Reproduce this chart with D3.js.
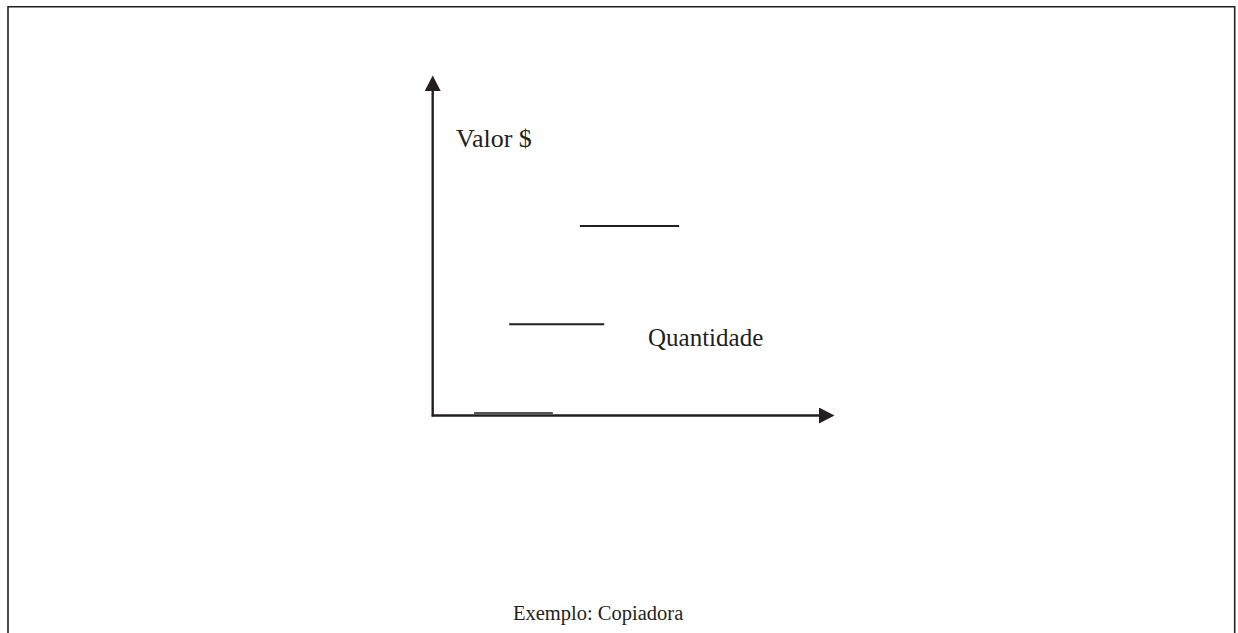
<!DOCTYPE html>
<html>
<head>
<meta charset="utf-8">
<script src="https://cdn.jsdelivr.net/npm/d3@7"></script>
<style>
	body { margin: 0; background: #fff; }
	svg text { font-family: "Liberation Serif", "Times New Roman", serif; fill: #231f20; }
</style>
</head>
<body>
<div id="chart"></div>
<script>

// step segments: price level for a quantity range (schematic)
const seg_start = [10.7, 19.8, 38.1]
const seg_end   = [31.1, 44.4, 63.8]
const seg_value = [0.8, 28.1, 58.4]

const y_label = 'Valor $'
const x_label = 'Quantidade'
const caption = 'Exemplo: Copiadora'

const width = 1238, height = 633
const ink = '#231f20'

var svg = d3.select('#chart').append('svg')
	.attr('width', width)
	.attr('height', height)

// frame (open at the bottom, runs off the page)
svg.append('path')
	.attr('d', `M8,${height + 5} V6.7 H1234.7 V${height + 5}`)
	.attr('fill', 'none')
	.attr('stroke', ink)
	.attr('stroke-width', 1.6)

// scales
var x = d3.scaleLinear()
	.domain([0, 100])
	.range([432.7, 819])

var y = d3.scaleLinear()
	.domain([0, 100])
	.range([415.5, 91])

// arrow heads
var defs = svg.append('defs')
defs.append('marker')
	.attr('id', 'arrow')
	.attr('viewBox', '0 0 16 16')
	.attr('refX', 0)
	.attr('refY', 8)
	.attr('markerWidth', 16)
	.attr('markerHeight', 16)
	.attr('markerUnits', 'userSpaceOnUse')
	.attr('orient', 'auto')
	.append('path')
		.attr('d', 'M0,0 L15.5,8 L0,16 Z')
		.attr('fill', ink)

var g = svg.append('g')

// y axis
g.append('line')
	.attr('x1', x(0)).attr('x2', x(0))
	.attr('y1', y(0) + 1).attr('y2', y(100))
	.attr('stroke', ink)
	.attr('stroke-width', 2.4)
	.attr('marker-end', 'url(#arrow)')

// x axis
g.append('line')
	.attr('x1', x(0) - 1).attr('x2', x(100))
	.attr('y1', y(0)).attr('y2', y(0))
	.attr('stroke', ink)
	.attr('stroke-width', 2.4)
	.attr('marker-end', 'url(#arrow)')

// steps
g.selectAll('.step')
	.data(seg_value)
	.enter()
	.append('line')
		.attr('class', 'step')
		.attr('x1', (d, i) => x(seg_start[i]))
		.attr('x2', (d, i) => x(seg_end[i]))
		.attr('y1', d => y(d))
		.attr('y2', d => y(d))
		.attr('stroke', (d, i) => i == 0 ? '#555' : ink)
		.attr('stroke-width', 2)

// labels
g.append('text')
	.attr('x', 456)
	.attr('y', 147)
	.style('font-size', '26px')
	.text(y_label)

g.append('text')
	.attr('x', 648)
	.attr('y', 346)
	.style('font-size', '25px')
	.text(x_label)

g.append('text')
	.attr('x', 513)
	.attr('y', 620)
	.style('font-size', '20.5px')
	.text(caption)

</script>
</body>
</html>
